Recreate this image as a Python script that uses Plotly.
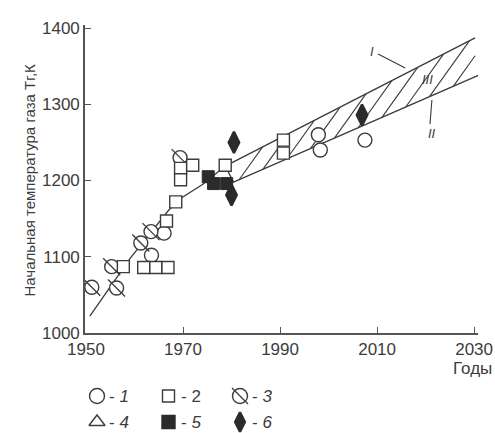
import numpy as np
import plotly.graph_objects as go

# ---------------- data ----------------
s1_year = [1963.5, 1966.1, 1997.9, 1998.3, 2007.5]
s1_T = [1102, 1131, 1260, 1240, 1253]

s2_year = [1957.7, 1961.9, 1964.4, 1966.9, 1966.6, 1968.5, 1969.5, 1969.5, 1972.0, 1978.7, 1990.7, 1990.7]
s2_T = [1087, 1086, 1086, 1086, 1147, 1172, 1216, 1201, 1220, 1220, 1253, 1236]

s3_year = [1951.2, 1956.3, 1955.3, 1961.3, 1963.4, 1969.4]
s3_T = [1060, 1059, 1087, 1118, 1133, 1230]

s5_year = [1975.2, 1976.3, 1979.0]
s5_T = [1205, 1196, 1196]

s6_year = [1980.0, 1980.5, 2006.9]
s6_T = [1181, 1250, 1286]

trend_year = [1950.8, 1959.1, 1966.9, 1969.4, 1974.1, 1978.7]
trend_T = [1022, 1098, 1160, 1176, 1195, 1219]

upper_year = [1978.7, 2030.2]   # line I
upper_T = [1219, 1387]
lower_year = [1978.7, 1980.4, 2030.9]   # line II
lower_T = [1219, 1198, 1338]

x_ticks = [1950, 1970, 1990, 2010, 2030]
y_ticks = [1000, 1100, 1200, 1300, 1400]

legend_labels = ["1", "2", "3", "4", "5", "6"]

# ---------------- styling ----------------
W, H = 495, 433
INK = "#3c3c3c"
FILL = "#2b2b2b"
FONT = "Liberation Sans, Arial, sans-serif"

fig = go.Figure()

# hatch lines inside the band (decoration derived from the band lines)
k = 8.9  # slope of hatch strokes, K per year
xl0, Tl0, xl1, Tl1 = lower_year[1], lower_T[1], lower_year[2], lower_T[2]
sl = (Tl1 - Tl0) / (xl1 - xl0)
xu0, Tu0, xu1, Tu1 = upper_year[0], upper_T[0], upper_year[1], upper_T[1]
su = (Tu1 - Tu0) / (xu1 - xu0)
hx, hy = [], []
for s in np.arange(1981.6, 2029.0, 4.9):
    Tb = Tl0 + sl * (s - xl0)
    xt = (Tu0 - su * xu0 - Tb + k * s) / (k - su)
    xt = min(xt, xu1)
    Tt = Tb + k * (xt - s)
    hx += [s, xt, None]
    hy += [Tb, Tt, None]
fig.add_trace(go.Scatter(x=hx, y=hy, mode="lines", line=dict(color=INK, width=1.1),
                         hoverinfo="skip", showlegend=False))

# trend line and band
fig.add_trace(go.Scatter(x=trend_year, y=trend_T, mode="lines", line=dict(color=INK, width=1.3),
                         showlegend=False))
fig.add_trace(go.Scatter(x=upper_year, y=upper_T, mode="lines", line=dict(color=INK, width=1.4),
                         showlegend=False))
fig.add_trace(go.Scatter(x=lower_year, y=lower_T, mode="lines", line=dict(color=INK, width=1.4),
                         showlegend=False))

# markers
open_line = dict(color=INK, width=1.4)
fig.add_trace(go.Scatter(x=s1_year, y=s1_T, mode="markers", name="1",
                         marker=dict(symbol="circle", size=14, color="white", line=open_line)))
fig.add_trace(go.Scatter(x=s3_year, y=s3_T, mode="markers", name="3",
                         marker=dict(symbol="circle", size=14, color="white", line=open_line)))
fig.add_trace(go.Scatter(x=s3_year, y=s3_T, mode="markers", showlegend=False,
                         marker=dict(symbol="line-nw", size=17, line=dict(color=INK, width=1.3))))
fig.add_trace(go.Scatter(x=s2_year, y=s2_T, mode="markers", name="2",
                         marker=dict(symbol="square", size=12, color="white", line=open_line)))
fig.add_trace(go.Scatter(x=s5_year, y=s5_T, mode="markers", name="5",
                         marker=dict(symbol="square", size=12, color=FILL, line=dict(color=FILL, width=1))))
fig.add_trace(go.Scatter(x=s6_year, y=s6_T, mode="markers", name="6",
                         marker=dict(symbol="diamond-tall", size=15, color=FILL, line=dict(color=FILL, width=2.4))))

# ---------------- manual legend (3 x 2 grid below the axes) ----------------
leg_sym = ["circle-open", "square-open", "circle-open", "triangle-up-open", "square", "diamond-tall"]
for i, lab in enumerate(legend_labels):
    col, row = i % 3, i // 3
    cx = 97 + 71.5 * col
    cy = 396 + 26 * row
    filled = lab in ("5", "6")
    size = {"circle-open": 15, "square-open": 12, "triangle-up-open": 14, "square": 12, "diamond-tall": 14}[leg_sym[i]]
    fig.add_trace(go.Scatter(x=[cx], y=[cy], mode="markers", xaxis="x2", yaxis="y2", showlegend=False,
                             hoverinfo="skip",
                             marker=dict(symbol=leg_sym[i], size=size,
                                         color=FILL if filled else INK,
                                         line=dict(color=FILL if filled else INK, width=1.4 if not filled else 2.4))))
    if lab == "3":
        fig.add_trace(go.Scatter(x=[cx], y=[cy], mode="markers", xaxis="x2", yaxis="y2", showlegend=False,
                                 hoverinfo="skip",
                                 marker=dict(symbol="line-nw", size=16, line=dict(color=INK, width=1.3))))
    txt = "- " + (lab if lab == "2" else "<i>" + lab + "</i>")
    fig.add_annotation(x=cx + 10, y=cy, xref="x2", yref="y2", text=txt, showarrow=False,
                       xanchor="left", yanchor="middle", font=dict(size=17, color=INK, family=FONT))

# curve labels I, II, III with leaders
fig.add_annotation(x=2008.9, y=1369, text="<i>I</i>", showarrow=False, font=dict(size=13, color=INK, family=FONT))
fig.add_annotation(x=2020.3, y=1332, text="<i>III</i>", showarrow=False, font=dict(size=13, color=INK, family=FONT))
fig.add_annotation(x=2021.3, y=1262, text="<i>II</i>", showarrow=False, font=dict(size=13, color=INK, family=FONT))
fig.add_shape(type="line", x0=2010.2, y0=1366, x1=2015.8, y1=1347.5, line=dict(color=INK, width=1.1))
fig.add_shape(type="line", x0=2020.9, y0=1274, x1=2021.3, y1=1305.6, line=dict(color=INK, width=1.1))

# axis titles
fig.add_annotation(x=18 / W, y=1 - 180 / H, xref="paper", yref="paper", textangle=-90,
                   text="Начальная температура газа Тг,К", showarrow=False,
                   font=dict(size=15, color=INK, family=FONT))
fig.add_annotation(x=494 / W, y=1 - 368 / H, xref="paper", yref="paper", xanchor="right", yanchor="middle",
                   text="Годы", showarrow=False, font=dict(size=17, color=INK, family=FONT))

axis_common = dict(showgrid=False, zeroline=False, showline=True, linecolor="#555", linewidth=1.6,
                   ticks="inside", ticklen=6, tickwidth=1.3, tickcolor="#555", automargin=False,
                   tickfont=dict(size=17, color=INK, family=FONT))
fig.update_layout(
    width=W, height=H,
    margin=dict(l=0, r=0, t=0, b=0, autoexpand=False),
    paper_bgcolor="white", plot_bgcolor="rgba(0,0,0,0)",
    showlegend=False,
    xaxis=dict(domain=[85 / W, 478 / W], range=[1949.8, 2030.8], tickvals=x_ticks, **axis_common),
    yaxis=dict(domain=[(H - 333) / H, (H - 25) / H], range=[1000, 1404], tickvals=y_ticks, **axis_common),
    xaxis2=dict(domain=[0, 1], range=[0, W], visible=False, fixedrange=True, anchor="y2", automargin=False),
    yaxis2=dict(domain=[0, 1], range=[H, 0], visible=False, fixedrange=True, anchor="x2", automargin=False),
)

fig.write_html("out.html", config={"displayModeBar": False},
               post_script="document.body.style.margin='0';document.body.style.overflow='hidden';")
